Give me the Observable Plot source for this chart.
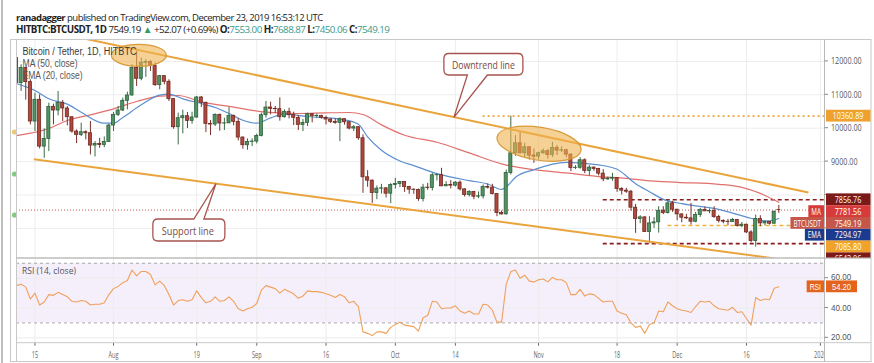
<!DOCTYPE html>
<html>
<head>
<meta charset="utf-8">
<script src="https://cdn.jsdelivr.net/npm/d3@7"></script>
<script src="https://cdn.jsdelivr.net/npm/@observablehq/plot@0.6"></script>
<style>
html, body { margin:0; padding:0; background:#fff; }
body { width:874px; height:363px; position:relative; overflow:hidden; }
.pane { position:absolute; overflow:hidden; }
.pane svg { display:block; overflow:hidden; }
text { white-space: pre; }
</style>
</head>
<body>
<div id="mainPane" class="pane" style="left:10px; top:39px; width:815px; height:219px;"></div>
<div id="rsiPane" class="pane" style="left:10px; top:258px; width:815px; height:104px;"></div>
<script>
// ---------------- DATA ----------------
const firstDay = "2019-07-11";
const lastDay = "2019-12-23";
const opens = [
  12100,11350,11800,11380,10200,10850,9450,9680,10640,10530,10760,10590,10330,9900,9800,9880,9850,9480,9530,9500,9590,
  10080,10400,10530,10820,10980,11800,11480,11960,11980,11860,11290,11560,11390,10870,10030,10300,10360,10220,10320,10920,10760,10130,10110,10400,10140,10145,10370,10190,9720,9490,9590,
  9600,9770,10390,10620,10580,10570,10330,10490,10390,10310,10100,10160,10420,10360,10365,10310,10260,10190,10160,10270,10180,9990,10030,9700,8530,8430,8060,8190,8200,8040,
  8300,8330,8390,8240,8160,8150,7880,8220,8210,8590,8595,8260,8300,8280,8370,8170,8000,8090,7950,7960,8240,8220,8030,7460,7420,8660,9250,9550,9250,9430,9180,
  9150,9250,9310,9200,9410,9330,9340,9210,8810,8815,9040,8720,8820,8780,8640,8470,8490,8510,8180,8130,8100,7620,7280,7330,6890,7150,7180,7530,7460,7750,
  7560,7420,7320,7300,7200,7400,7550,7510,7520,7340,7220,7200,7190,7250,7070,7110,6880,6620,7280,7150,7190,7140,7553
];
const highs = [
  12100,11900,11830,11450,11050,11000,9980,10750,10720,11100,10830,10650,10330,9950,10150,9920,10200,9600,9700,9740,10120,
  10470,10650,10900,11080,11900,12300,12100,12050,12020,11950,11580,11560,11450,10880,10450,10540,10470,10480,10950,10950,10780,10230,10430,10420,10300,10620,10390,10280,9740,9680,9680,
  9820,10450,10800,10780,10650,10910,10550,10600,10480,10380,10260,10450,10440,10420,10390,10360,10280,10280,10310,10280,10190,10080,10050,9800,8730,8450,8270,8320,8220,8340,
  8500,8400,8400,8260,8180,8180,8320,8350,8650,8640,8800,8400,8430,8400,8420,8180,8130,8110,8090,8300,8330,8320,8040,7520,8750,10360.89,9780,9900,9550,9440,9380,
  9280,9380,9360,9580,9480,9440,9370,9230,8880,9120,9080,8880,8840,8800,8760,8540,8650,8520,8220,8200,8130,7720,7380,7350,7350,7320,7650,7650,7856.76,7810,
  7570,7430,7420,7750,7480,7600,7640,7580,7650,7390,7260,7270,7300,7270,7180,7130,6930,7400,7380,7220,7200,7520,7688.87
];
const lows = [
  11000,11100,10840,10100,9900,9380,9100,9300,10100,10370,10200,10070,9850,9540,9750,9650,9200,9140,9400,9420,9580,
  9900,10350,10500,10550,10960,11250,11420,11520,11700,11250,11150,11300,10800,9970,9500,9830,9990,10120,10300,10620,9870,9780,10050,9910,9930,10140,10070,9620,9370,9340,9450,
  9530,9740,10300,10400,10440,10210,10300,10280,10080,9930,9900,10050,10160,10300,10270,10100,10140,10120,9600,10090,9950,9900,9640,8050,8230,7750,7860,8030,7910,7740,
  8180,8220,8080,8020,8020,7810,7790,8140,8120,8420,8250,8260,8180,8240,8120,7940,7940,7860,7890,7880,8180,8000,7350,7400,7400,8600,9160,9230,9120,9050,8950,
  9050,9220,9080,9120,9180,9270,9120,8700,8760,8770,8640,8570,8710,8570,8400,8440,8410,8080,8000,8050,7520,6850,7140,6880,6543.06,7000,6860,7410,7430,7480,
  7230,7170,7270,7100,7170,7330,7510,7440,7300,7160,7140,7080,7190,7040,7020,6850,6570,6440,7050,7080,7100,7130,7450.06
];
const closes = [
  11350,11800,11380,10200,10850,9450,9680,10640,10530,10760,10590,10330,9900,9800,9880,9850,9480,9530,9500,9590,10080,
  10400,10530,10820,10980,11800,11480,11960,11980,11860,11290,11560,11390,10870,10030,10300,10360,10220,10320,10920,10760,10130,10110,10400,10140,10145,10370,10190,9720,9490,9590,9600,
  9770,10390,10620,10580,10570,10330,10490,10390,10310,10100,10160,10420,10360,10365,10310,10260,10190,10160,10270,10180,9990,10030,9700,8530,8430,8060,8190,8200,8040,8300,
  8330,8390,8240,8160,8150,7880,8220,8210,8590,8595,8260,8300,8280,8370,8170,8000,8090,7950,7960,8240,8220,8030,7460,7420,8660,9250,9550,9250,9430,9180,9150,
  9250,9310,9200,9410,9330,9340,9210,8810,8815,9040,8720,8820,8780,8640,8470,8490,8510,8180,8130,8100,7620,7280,7330,6890,7150,7180,7530,7460,7750,7560,
  7420,7320,7300,7200,7400,7550,7510,7520,7340,7220,7200,7190,7250,7070,7110,6880,6620,7280,7150,7190,7140,7497.12,7549.19
];
const rsiValues = [
  55,56,54,46,50,42,44,49,48.5,50.5,49,47.5,44.5,44,45,44.5,42,42.5,42.5,43.5,49,
  53,54.5,57,58.5,65.5,61.5,64.5,64.5,62.5,55.5,58,55,49,42,45,45.5,44.5,45.5,51.5,47,43.5,44.5,47.5,44.5,45,47.5,44.5,39.5,38,39.5,40.5,
  43,52,55,54,53,50,52.5,51,49.5,46.5,48,51.5,51,51,50.5,49.5,48.5,47,49,47.5,43.5,44.5,41,24,23,21.5,24,24,23,27,
  29,30.5,28.5,28,27.5,24.5,33.5,35,44.5,44,39.5,40,40,41.5,38,36.5,38,36,36,42.5,42,38.5,30.5,30.5,56,64.5,65.5,60,62,58,57.5,
  59,59.5,57.5,60.5,59,59,57,49,49,52.5,48,49.5,49,46.5,44,44.5,44.5,38,36.5,35.5,30,27,28,23,29,30,38,37.5,44,41.5,
  39.5,38.5,38,37,41,44.5,44,44.5,41.5,39.5,39,38.5,40.5,37,37.5,33,28.5,47,45,46,45.5,53.3,54.2
];
const ma50Dates = ["2019-07-11","2019-07-18","2019-07-22","2019-07-27","2019-08-01","2019-08-06","2019-08-11","2019-08-15","2019-08-20","2019-08-27","2019-09-03","2019-09-10","2019-09-16","2019-09-21","2019-09-24","2019-09-28","2019-10-03","2019-10-10","2019-10-17","2019-10-24","2019-10-31","2019-11-07","2019-11-14","2019-11-20","2019-11-24","2019-12-01","2019-12-10","2019-12-15","2019-12-19","2019-12-23"];
const ma50Values = [9780,9990,10230,10400,10580,10800,10960,10980,10790,10630,10480,10440,10460,10470,10410,10100,9790,9580,9260,8930,8760,8660,8550,8500,8440,8380,8320,8230,8050,7782];
const ema20Dates = ["2019-07-11","2019-07-15","2019-07-18","2019-07-22","2019-07-25","2019-07-30","2019-08-01","2019-08-03","2019-08-07","2019-08-11","2019-08-13","2019-08-16","2019-08-20","2019-08-23","2019-08-26","2019-08-29","2019-09-01","2019-09-04","2019-09-07","2019-09-12","2019-09-20","2019-09-23","2019-09-25","2019-09-28","2019-10-02","2019-10-05","2019-10-10","2019-10-17","2019-10-21","2019-10-24","2019-10-25","2019-10-27","2019-10-31","2019-11-07","2019-11-14","2019-11-18","2019-11-22","2019-11-25","2019-11-28","2019-12-02","2019-12-10","2019-12-16","2019-12-19","2019-12-21","2019-12-23"];
const ema20Values = [11340,11130,10880,10720,10480,10150,10150,10320,10700,10990,11020,10880,10740,10620,10440,10240,10150,10310,10420,10350,10250,10120,9740,9340,9020,8880,8640,8430,8330,8170,8240,8530,8760,8980,8900,8770,8340,8100,7870,7740,7570,7340,7240,7230,7295];
const xTickDates = ["2019-07-15","2019-08-01","2019-08-19","2019-09-01","2019-09-16","2019-10-01","2019-10-14","2019-11-01","2019-11-18","2019-12-01","2019-12-16","2020-01-01"];
const xTickLabels = ["15","Aug","19","Sep","16","Oct","14","Nov","18","Dec","16","2020"];
const priceTicks = [12000, 11000, 10000, 9000, 8000, 7000];
const rsiTicks = [60, 40, 20];
const levelPrices = [10360.89, 7856.76, 7549.19, 7085.80, 6543.06];
const levelStarts = ["2019-10-20", "2019-11-15", "2019-07-11", "2019-11-29", "2019-11-15"];
const trendStartDates = ["2019-07-22", "2019-07-14T18:00Z"];
const trendStartPrices = [12792, 9072];
const trendEndDates = ["2019-12-29T10:00Z", "2019-12-22"];
const trendEndPrices = [8075, 6102];
const tagNames = ["", "MA", "BTCUSDT", "EMA", "", ""];
const tagValues = [7856.76, 7781.56, 7549.19, 7294.97, 7085.80, 6543.06];
const rsiLast = 54.20;

// ---------------- STYLE ----------------
const FONT = "'Open Sans','Liberation Sans','DejaVu Sans',sans-serif";
const FONT2 = "'Liberation Sans',Arial,sans-serif";
const levelColors = ["#f2a63a", "#8b1c1c", "#c55a50", "#f2b23e", "#8b1c1c"];
const levelDashes = ["2,3", "4,3", "1,2", "4,3", "4,3"];
const levelWidths = [1.6, 1.6, 1, 1.6, 1.6];
const tagColors = ["#7c1a1a", "#d63b3b", "#c4564a", "#1d3b8e", "#f0a22a", "#7c1a1a"];

// ---------------- BUILD ----------------
const days = d3.utcDay.range(new Date(firstDay), d3.utcDay.offset(new Date(lastDay), 1));
const candles = days.map((date, i) => ({date, open: opens[i], high: highs[i], low: lows[i], close: closes[i], up: closes[i] >= opens[i]}));
const rsiData = days.map((date, i) => ({date, value: rsiValues[i]}));
const xDomain = [new Date("2019-07-11"), new Date("2020-01-02")];
const xEnd = xDomain[1];
const gridDates = xTickDates.map(d => new Date(d));
const levels = levelPrices.map((p, i) => ({price: p, start: new Date(levelStarts[i])}));
const trends = trendStartDates.map((d, i) => ({x1: new Date(d), y1: trendStartPrices[i], x2: new Date(trendEndDates[i]), y2: trendEndPrices[i]}));
const ma50 = ma50Dates.map((d, i) => ({date: new Date(d), value: ma50Values[i]}));
const ema20 = ema20Dates.map((d, i) => ({date: new Date(d), value: ema20Values[i]}));
const labelMap = new Map(xTickDates.map((d, i) => [+new Date(d), xTickLabels[i]]));

const main = Plot.plot({
  width: 815, height: 219, marginLeft: 6, marginRight: 0, marginTop: 0, marginBottom: 0,
  x: {type: "utc", domain: xDomain, range: [6, 814.5], axis: null},
  y: {type: "linear", domain: [6099, 12656], range: [219, 0], axis: null},
  color: {type: "identity"},
  style: {background: "transparent", fontFamily: FONT},
  marks: [
    Plot.ruleX(gridDates, {stroke: "#ededed"}),
    Plot.ruleY(priceTicks, {stroke: "#ededed"}),
    ...levels.map((l, i) => Plot.ruleY([l], {y: "price", x1: "start", x2: () => xEnd, stroke: levelColors[i], strokeWidth: levelWidths[i], strokeDasharray: levelDashes[i]})),
    Plot.line(ma50, {x: "date", y: "value", stroke: "#e2706d", strokeWidth: 1.2, curve: "monotone-x", clip: true}),
    Plot.line(ema20, {x: "date", y: "value", stroke: "#5c8fcf", strokeWidth: 1.2, curve: "monotone-x", clip: true}),
    Plot.ruleX(candles, {x: "date", y1: "low", y2: "high", stroke: d => d.up ? "#3b6b46" : "#7b3129", strokeWidth: 1, clip: true}),
    Plot.rect(candles, {x1: d => d3.utcHour.offset(d.date, -8), x2: d => d3.utcHour.offset(d.date, 8), y1: "open", y2: "close",
      fill: d => d.up ? "#4f9462" : "#b2473c", stroke: d => d.up ? "#2f5e3a" : "#6e2a23", strokeWidth: 0.8, clip: true}),
    Plot.link(trends, {x1: "x1", y1: "y1", x2: "x2", y2: "y2", stroke: "#eaa43c", strokeWidth: 2, clip: true})
  ]
});
document.getElementById("mainPane").appendChild(main);

const rsiPlot = Plot.plot({
  width: 815, height: 104, marginLeft: 6, marginRight: 0, marginTop: 0, marginBottom: 19.3,
  x: {type: "utc", domain: xDomain, range: [6, 814.5], ticks: gridDates, tickFormat: d => labelMap.get(+d), tickSize: 3, tickPadding: 5, label: null},
  y: {domain: [16.4, 73.2], range: [84.7, 0], axis: null},
  style: {background: "transparent", fontFamily: FONT, fontSize: "9px", color: "#666"},
  marks: [
    Plot.rect([0], {x1: () => xDomain[0], x2: () => xEnd, y1: () => 30, y2: () => 70, fill: "#f5effb"}),
    Plot.ruleX(gridDates, {stroke: "#ececec"}),
    Plot.ruleY(rsiTicks, {stroke: "#ececec"}),
    Plot.ruleY([70, 30], {stroke: "#a8a8a8", strokeDasharray: "3,3"}),
    Plot.line(rsiData, {x: "date", y: "value", stroke: "#f0a05a", strokeWidth: 1.1, clip: true})
  ]
});
document.getElementById("rsiPane").appendChild(rsiPlot);
rsiPlot.querySelectorAll("text").forEach(t => {
  const w = t.getComputedTextLength();
  if (w > 0) { t.setAttribute("textLength", (w * 0.62).toFixed(1)); t.setAttribute("lengthAdjust", "spacingAndGlyphs"); }
});

function sApply(chart, name, domain, range) {
  const s = chart.scale(name);
  if (s && s.apply) return s.apply;
  return (name === "x" ? d3.scaleUtc() : d3.scaleLinear()).domain(domain).range(range);
}
const Xs = sApply(main, "x", xDomain, [6, 814.5]);
const Ys = sApply(main, "y", [6099, 12656], [219, 0]);
const Rs = sApply(rsiPlot, "y", [16.4, 73.2], [84.7, 0]);
const px = d => 10 + Xs(d instanceof Date ? d : new Date(d));
const py = p => 39 + Ys(p);
const ry = v => 258 + Rs(v);

// ---------------- OVERLAY ----------------
const ov = d3.select("body").append("svg").attr("width", 874).attr("height", 363)
  .style("position", "absolute").style("left", "0px").style("top", "0px");
ov.append("defs").append("clipPath").attr("id", "tagClip")
  .append("rect").attr("x", 700).attr("y", 39.5).attr("width", 174).attr("height", 218);

function addText(parent, x, y, str, o = {}) {
  const t = parent.append("text").attr("x", x).attr("y", y)
    .attr("font-family", o.font || FONT).attr("font-size", o.size || 9)
    .attr("fill", o.fill || "#444").attr("font-weight", o.weight || "normal")
    .attr("text-anchor", o.anchor || "start").attr("dominant-baseline", "central").text(str);
  fitText(t, o);
  return t;
}
function fitText(t, o) {
  if (o.width || o.squeeze) {
    const w = t.node().getComputedTextLength();
    const target = o.width || w * o.squeeze;
    if (w > 0) t.attr("textLength", target).attr("lengthAdjust", "spacingAndGlyphs");
  }
}

// ellipses (highlight areas)
const ellipses = [
  {date: "2019-08-06T14:00Z", price: 12168, rx: 27.5, ry: 11, angle: 0},
  {date: "2019-11-01T05:00Z", price: 9521, rx: 42.5, ry: 16.5, angle: 9}
];
ellipses.forEach(e => {
  const cx = px(e.date), cy = py(e.price);
  ov.append("ellipse").attr("cx", cx).attr("cy", cy).attr("rx", e.rx).attr("ry", e.ry)
    .attr("transform", `rotate(${e.angle},${cx},${cy})`)
    .attr("fill", "#eeb24f").attr("fill-opacity", 0.6).attr("stroke", "#d99a3a").attr("stroke-width", 1.2);
});

// callouts
function callout(c) {
  const cx = px(c.date), cy = py(c.price);
  const x0 = cx - c.w / 2, x1 = cx + c.w / 2, y0 = cy - c.h / 2, y1 = cy + c.h / 2, r = 5;
  const tx = px(c.tipDate), ty = py(c.tipPrice);
  const b0 = cx + c.base[0], b1 = cx + c.base[1];
  let p = `M${x0 + r},${y0}`;
  if (c.side === "top") p += ` H${b0} L${tx},${ty} L${b1},${y0}`;
  p += ` H${x1 - r} Q${x1},${y0} ${x1},${y0 + r} V${y1 - r} Q${x1},${y1} ${x1 - r},${y1}`;
  if (c.side === "bottom") p += ` H${b1} L${tx},${ty} L${b0},${y1}`;
  p += ` H${x0 + r} Q${x0},${y1} ${x0},${y1 - r} V${y0 + r} Q${x0},${y0} ${x0 + r},${y0} Z`;
  ov.append("path").attr("d", p).attr("fill", "#fff").attr("stroke", "#a8534f").attr("stroke-width", 1.3);
  addText(ov, cx + (c.textDx || 0), cy + 0.5, c.text, {size: 10.5, fill: "#7a4846", anchor: "middle", width: c.textW});
}
callout({text: "Downtrend line", date: "2019-10-20T04:00Z", price: 11900, w: 79, h: 21.5, side: "bottom", base: [-16, 4], tipDate: "2019-10-13T19:00Z", tipPrice: 10311, textW: 63});
callout({text: "Support line", date: "2019-08-17T10:00Z", price: 6937, w: 72, h: 22, side: "top", base: [5, 15], tipDate: "2019-08-23T07:00Z", tipPrice: 8329, textW: 52, textDx: -1});

// pane legends
addText(ov, 22.5, 51.7, "Bitcoin / Tether, 1D, HITBTC", {font: FONT2, size: 10, fill: "#3a3a3a", width: 114});
addText(ov, 22.5, 63.3, "MA (50, close)", {font: FONT2, size: 10, fill: "#555", width: 55});
addText(ov, 22.5, 75, "EMA (20, close)", {font: FONT2, size: 10, fill: "#555", width: 60});
addText(ov, 22, 270, "RSI (14, close)", {size: 9.5, fill: "#555", width: 54});

// left-edge markers
[["#e3c25a", 132], ["#6cbf6c", 174], ["#6cbf6c", 215]].forEach(([c, y]) => {
  ov.append("circle").attr("cx", 14.5).attr("cy", y).attr("r", 2.6).attr("fill", c).attr("opacity", 0.85);
});

// frame
const line = (x1, y1, x2, y2, col = "#c8c8c8", w = 1) => ov.append("line").attr("x1", x1).attr("y1", y1).attr("x2", x2).attr("y2", y2).attr("stroke", col).attr("stroke-width", w);
line(2, 0, 2, 363, "#a8a8a8", 1.5);
ov.append("rect").attr("x", 10.5).attr("y", 39.5).attr("width", 860.5).attr("height", 322).attr("fill", "none").attr("stroke", "#c8c8c8");
line(16.5, 39.5, 16.5, 362);
line(824.5, 39.5, 824.5, 362, "#b8b8b8");
line(16.5, 258, 871, 258, "#bdbdbd", 1.5);
line(16.5, 342.7, 871, 342.7, "#c8c8c8");

// stacked tag positions (computed from the price scale, pushed down to avoid overlap)
const tagStep = 11.8;
let prevY = -Infinity;
const tagYs = tagValues.map(v => { const y = Math.max(py(v), prevY + tagStep); prevY = y; return y; });
const allTagYs = [py(levelPrices[0]), ...tagYs];

// price axis ticks (labels hidden where a tag covers them, as in TradingView)
priceTicks.forEach(p => {
  const y = py(p);
  line(824.5, y, 828, y, "#888");
  if (!allTagYs.some(ty => Math.abs(ty - y) < 9)) addText(ov, 831, y, p.toFixed(2), {size: 9, fill: "#555", squeeze: 0.8});
});
rsiTicks.forEach(v => {
  const y = ry(v);
  line(824.5, y, 828, y, "#888");
  addText(ov, 831, y - (v === 60 ? 0.8 : 0), v.toFixed(2), {font: FONT2, size: 9, fill: "#555", squeeze: 0.9});
});

// tags on the price axis (clipped to the price pane)
const tg = ov.append("g").attr("clip-path", "url(#tagClip)");
{
  const y = py(levelPrices[0]);
  tg.append("rect").attr("x", 826).attr("y", y - 5.9).attr("width", 44.5).attr("height", 11.8).attr("fill", "#eea12e");
  addText(tg, 848, y + 0.3, levelPrices[0].toFixed(2), {size: 8.5, fill: "#fff", anchor: "middle", squeeze: 0.85});
}
tagValues.forEach((v, i) => {
  const y = tagYs[i];
  if (y > 262) return;
  tg.append("rect").attr("x", 826).attr("y", y - 5.9).attr("width", 44.5).attr("height", 11.8).attr("fill", tagColors[i]);
  addText(tg, 848, y + 0.3, v.toFixed(2), {size: 8.5, fill: "#fff", anchor: "middle", squeeze: 0.85});
  if (tagNames[i]) {
    const t = addText(tg, 821, y + 0.3, tagNames[i], {size: 8.5, fill: "#fff", anchor: "end", squeeze: 0.74});
    const w = +t.attr("textLength");
    tg.insert("rect", () => t.node()).attr("x", 824 - w - 6).attr("y", y - 5.9).attr("width", w + 6).attr("height", 11.8).attr("fill", tagColors[i]);
  }
});
// RSI tag
{
  const y = ry(rsiLast);
  const t = addText(ov, 821, y + 0.3, "RSI", {font: FONT2, size: 8.5, fill: "#fff", anchor: "end", squeeze: 0.8});
  const w = +t.attr("textLength");
  ov.insert("rect", () => t.node()).attr("x", 824 - w - 6).attr("y", y - 5.9).attr("width", w + 6).attr("height", 11.8).attr("fill", "#e4631d");
  ov.append("rect").attr("x", 826).attr("y", y - 5.9).attr("width", 31).attr("height", 11.8).attr("fill", "#e4631d");
  addText(ov, 841.5, y + 0.6, rsiLast.toFixed(2), {font: FONT2, size: 8.5, fill: "#fff", anchor: "middle", squeeze: 0.9});
}

// header: coloured runs laid out one after another; fitted with font size + letter spacing
function header(y, parts, width) {
  const f0 = 11;
  const nodes = parts.map(([s, weight, fill]) => ov.append("text").attr("y", y)
    .attr("font-family", FONT).attr("font-size", f0).attr("font-weight", weight || "normal")
    .attr("fill", fill || "#222").attr("dominant-baseline", "central").text(s));
  const w0 = d3.sum(nodes, n => n.node().getComputedTextLength());
  const nChars = d3.sum(parts, p => p[0].length);
  const ls = -0.55;
  const f = Math.min(f0, (width - ls * nChars) * f0 / w0);
  nodes.forEach(n => n.attr("font-size", f).attr("letter-spacing", ls));
  let x = 16;
  nodes.forEach(n => { n.attr("x", x); x += n.node().getComputedTextLength(); });
}
header(17.3, [["ranadagger", "bold"], [" published on TradingView.com, December 23, 2019 16:53:12 UTC"]], 307);
const teal = "#3a9b8c";
header(29.5, [["HITBTC:BTCUSDT, 1D", "bold"], [" 7549.19 "], ["▲", "normal", "#2e9e62"], [" +52.07 (+0.69%) "], ["O:", "bold"], ["7553.00", "normal", teal],
  [" H:", "bold"], ["7688.87", "normal", teal], [" L:", "bold"], ["7450.06", "normal", teal], [" C:", "bold"], ["7549.19", "normal", teal]], 374);
</script>
</body>
</html>
